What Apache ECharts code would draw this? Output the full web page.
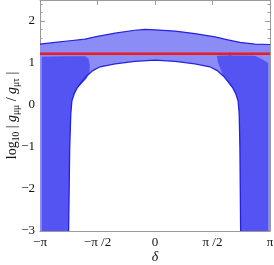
<!DOCTYPE html>
<html><head><meta charset="utf-8">
<script src="https://cdn.jsdelivr.net/npm/echarts@6/dist/echarts.min.js"></script>
<style>html,body{margin:0;padding:0;background:#fff}#c{width:274px;height:265px}</style>
</head><body><div id="c"></div>
<script>
const PI = Math.PI;
const xTickValues = [-PI, -PI / 2, 0, PI / 2, PI];
const xTickLabels = ['−π', '−π /2', '0', 'π /2', 'π'];
const yTickValues = [-3, -2, -1, 0, 1, 2];
const yMinorTickValues = [-2.8, -2.6, -2.4, -2.2, -1.8, -1.6, -1.4, -1.2, -0.8, -0.6, -0.4, -0.2,
  0.2, 0.4, 0.6, 0.8, 1.2, 1.4, 1.6, 1.8, 2.2, 2.4];
const redLevel = 1.22;

// upper edge of the allowed (light) region
const upperBoundary = [[-3.1416, 1.45], [-2.73, 1.49], [-2.32, 1.53], [-1.91, 1.57], [-1.64, 1.62],
  [-1.09, 1.71], [-0.55, 1.78], [-0.27, 1.80], [0, 1.79], [0.55, 1.76], [1.09, 1.70],
  [1.64, 1.62], [1.99, 1.55], [2.32, 1.49], [2.73, 1.45], [3.1416, 1.44]];
// excluded (white) hole boundary
const holeBoundary = [[-2.36, -3], [-2.33, -1.0], [-2.30, -0.2], [-2.27, 0.1], [-2.21, 0.26],
  [-2.13, 0.40], [-2.02, 0.53], [-1.88, 0.68], [-1.70, 0.82], [-1.50, 0.91], [-1.09, 0.98],
  [-0.55, 1.04], [0, 1.07], [0.55, 1.04], [1.09, 0.98], [1.50, 0.91], [1.70, 0.82],
  [1.88, 0.68], [2.02, 0.53], [2.13, 0.40], [2.21, 0.26], [2.27, 0.1], [2.30, -0.2],
  [2.32, -1.0], [2.34, -3]];
// darker sub-regions
const leftDark = [[-3.09, -3], [-3.09, 1.15], [-2.4, 1.16], [-1.91, 1.16], [-1.82, 1.11],
  [-1.78, 0.95], [-1.79, 0.78], [-1.87, 0.63], [-2.0, 0.51], [-2.13, 0.40], [-2.21, 0.26],
  [-2.27, 0.1], [-2.30, -0.2], [-2.33, -1.0], [-2.36, -3]];
const rightDark = [[2.34, -3], [2.32, -1.0], [2.30, -0.2], [2.27, 0.1], [2.21, 0.26],
  [2.13, 0.40], [2.03, 0.50], [1.86, 0.71], [1.78, 0.88], [1.72, 1.02], [1.69, 1.17],
  [2.01, 1.18], [2.05, 1.27], [2.10, 1.18], [2.73, 1.17], [2.95, 1.08], [3.09, 1.0], [3.09, -3]];

const FONT = 'Liberation Serif';
const LIGHT = 'rgb(140,140,246)';
const DARK = 'rgb(84,84,242)';
const EDGE = '#2222e0';

function shape(points, kind, style) {
  return {
    type: 'custom', coordinateSystem: 'cartesian2d', xAxisIndex: 0, yAxisIndex: 0,
    silent: true, animation: false, data: [[0, 0]],
    renderItem: (params, api) => ({
      type: kind,
      shape: { points: points.map(p => api.coord(p)) },
      style: style
    })
  };
}

const lightPoly = upperBoundary.concat([[PI, -3], [-PI, -3]]);

const chart = echarts.init(document.getElementById('c'), null, { renderer: 'canvas' });
const axisGray = '#9a9a9a';
function xAx(pos, labels) {
  return {
    type: 'value', min: -PI, max: PI, position: pos,
    axisLine: { show: true, onZero: false, lineStyle: { color: axisGray, width: 1 } },
    axisTick: { show: true, inside: true, length: 5, customValues: xTickValues, lineStyle: { color: axisGray } },
    axisLabel: labels ? {
      customValues: xTickValues, margin: 5, color: '#111', fontFamily: FONT, fontSize: 13,
      hideOverlap: false,
      formatter: v => { let b = 0; xTickValues.forEach((t, i) => { if (Math.abs(t - v) < Math.abs(xTickValues[b] - v)) b = i; }); return xTickLabels[b]; }
    } : { show: false },
    splitLine: { show: false },
    name: labels ? 'δ' : '', nameLocation: 'middle', nameGap: 19, nameMoveOverlap: false,
    nameTextStyle: { fontFamily: FONT, fontStyle: 'italic', fontSize: 14, color: '#111' }
  };
}
function yAx(pos, minor, labels) {
  return {
    type: 'value', min: -3, max: 2.5, position: pos,
    axisLine: { show: !minor, onZero: false, lineStyle: { color: axisGray, width: 1 } },
    axisTick: { show: true, inside: true, length: minor ? 2.5 : 5, customValues: minor ? yMinorTickValues : yTickValues, lineStyle: { color: axisGray } },
    axisLabel: labels ? { customValues: yTickValues, margin: 5, color: '#111', fontFamily: FONT, fontSize: 13,
      formatter: v => (v < 0 ? '−' + Math.abs(v) : '' + v) } : { show: false },
    splitLine: { show: false },
    name: labels ? '{t|log}{s|10}{t| | }{g|g}{s|μμ}{t| / }{g|g}{s|μτ}{t| |}' : '',
    nameLocation: 'middle', nameRotate: 90, nameGap: 19, nameMoveOverlap: false,
    nameTextStyle: {
      rich: {
        t: { fontFamily: FONT, fontSize: 14, color: '#111', lineHeight: 18 },
        g: { fontFamily: FONT, fontSize: 14, fontStyle: 'italic', color: '#111', lineHeight: 18 },
        s: { fontFamily: FONT, fontSize: 9.5, fontStyle: 'normal', color: '#111', verticalAlign: 'bottom', lineHeight: 10 }
      }
    }
  };
}

chart.setOption({
  animation: false,
  backgroundColor: '#fff',
  grid: { left: 40, right: 4, top: 0, bottom: 34, containLabel: false, outerBoundsMode: 'none' },
  xAxis: [xAx('bottom', true), xAx('top', false)],
  yAxis: [yAx('left', false, true), yAx('left', true, false), yAx('right', false, false), yAx('right', true, false)],
  series: [
    shape(lightPoly, 'polygon', { fill: LIGHT, stroke: null }),
    shape(upperBoundary, 'polyline', { fill: null, stroke: EDGE, lineWidth: 1.2 }),
    shape(holeBoundary, 'polygon', { fill: '#fff', stroke: null }),
    shape(leftDark, 'polygon', { fill: DARK, stroke: null }),
    shape(rightDark, 'polygon', { fill: DARK, stroke: null }),
    shape(holeBoundary, 'polyline', { fill: null, stroke: EDGE, lineWidth: 1.3 }),
    {
      type: 'line', xAxisIndex: 0, yAxisIndex: 0, silent: true, symbol: 'none', animation: false,
      data: [[-PI, redLevel], [PI, redLevel]],
      lineStyle: { color: '#ee1c1c', width: 2.6 }
    }
  ]
});
</script>
</body></html>
